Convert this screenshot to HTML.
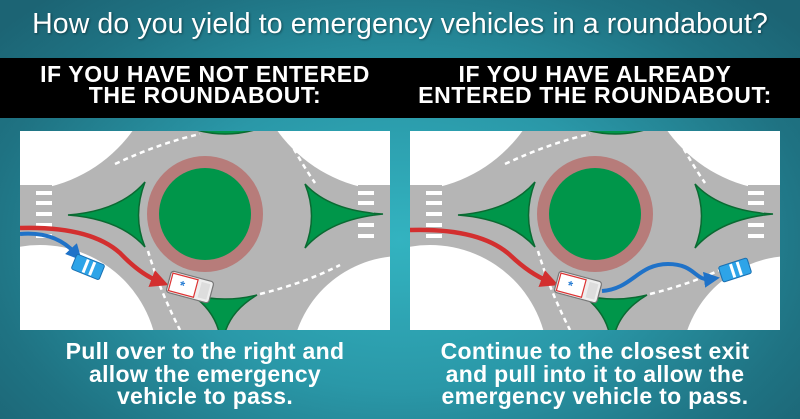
<!DOCTYPE html>
<html><head><meta charset="utf-8"><style>
html,body{margin:0;padding:0}
body{width:800px;height:419px;overflow:hidden;position:relative;font-family:"Liberation Sans",sans-serif;
background:radial-gradient(ellipse 520px 330px at 400px 240px,#33b3c0 0%,#2a98a8 45%,#1f7383 80%,#1c6474 100%);}
.title{position:absolute;top:8px;left:0;width:800px;text-align:center;color:#fff;font-size:28.5px;letter-spacing:0.1px;text-shadow:1px 1px 2px rgba(0,0,0,.4)}
.band{position:absolute;top:58px;left:0;width:800px;height:60px;background:#000}
.h{position:absolute;top:64px;width:400px;text-align:center;color:#fff;font-weight:bold;font-size:23px;line-height:21px;letter-spacing:0.6px}
.panel{position:absolute;top:131px;width:370px;height:199px;background:#fff}
.b{position:absolute;top:340px;width:400px;text-align:center;color:#fff;font-weight:bold;font-size:23px;line-height:22.5px;letter-spacing:0.3px}
</style></head><body>
<div class="title">How do you yield to emergency vehicles in a roundabout?</div>
<div class="band"></div>
<div class="h" style="left:5px">IF YOU HAVE NOT ENTERED<br>THE ROUNDABOUT:</div>
<div class="h" style="left:395px">IF YOU HAVE ALREADY<br>ENTERED THE ROUNDABOUT:</div>

<svg width="0" height="0" style="position:absolute">
<defs>
<g id="rb">
 <rect x="0" y="0" width="370" height="199" fill="#b5b5b5"/>
 <circle cx="-5" cy="-85" r="145" fill="#fff"/>
 <circle cx="375" cy="-85" r="145" fill="#fff"/>
 <circle cx="20" cy="232" r="118" fill="#fff"/>
 <circle cx="382" cy="236" r="111" fill="#fff"/>
 <rect x="0" y="54" width="32" height="60" fill="#b5b5b5"/>
 <rect x="338" y="54" width="32" height="60" fill="#b5b5b5"/>
 <g fill="#fff">
  <rect x="16" y="60" width="16" height="4"/><rect x="16" y="70" width="16" height="4"/><rect x="16" y="81" width="16" height="4"/><rect x="16" y="92" width="16" height="4"/><rect x="16" y="103" width="16" height="4"/>
  <rect x="338" y="60" width="16" height="4"/><rect x="338" y="70" width="16" height="4"/><rect x="338" y="81" width="16" height="4"/><rect x="338" y="92" width="16" height="4"/><rect x="338" y="103" width="16" height="4"/>
 </g>
 <g fill="none" stroke="#fff" stroke-width="2.5" stroke-dasharray="5 4">
  <path d="M95,33 Q140,12 180,3"/>
  <path d="M265,2 Q280,30 295,52"/>
  <path d="M128,120 Q140,160 160,199"/>
  <path d="M240,163 Q285,152 320,134"/>
 </g>
 <circle cx="185" cy="83" r="58" fill="#b77c7a"/>
 <circle cx="185" cy="83" r="46" fill="#00964a"/>
 <g fill="#00964a" stroke="#0a6a32" stroke-width="1.5">
  <path d="M48,84 Q100,80 125,51 Q112,85 125,116 Q100,88 48,84Z"/>
  <path d="M363,83 Q310,80 285,53 Q298,85 285,117 Q310,88 363,83Z"/>
  <path d="M172,164 Q205,172 237,164 Q210,180 204,205 L200,205 Q195,180 172,164Z"/>
  <path d="M173,-2 Q205,8 238,-2Z"/>
 </g>
</g>
<g id="amb">
 <rect x="-22" y="-11" width="44" height="22" rx="3" fill="#eee" stroke="#777" stroke-width="1.2"/>
 <rect x="-20" y="-9" width="26" height="18" fill="#fff" stroke="#d33" stroke-width="1.2"/>
 <rect x="10" y="-8" width="9" height="16" fill="#ddd"/>
 <text x="-8" y="5" font-size="13" fill="#2a7fd4" text-anchor="middle" font-family="Liberation Sans,sans-serif" font-weight="bold">*</text>
</g>
<g id="car">
 <rect x="-15" y="-8" width="30" height="16" rx="2" fill="#2ea4e8" stroke="#1a6fb0" stroke-width="1"/>
 <rect x="-4" y="-7" width="3" height="14" fill="#fff"/><rect x="3" y="-7" width="3" height="14" fill="#fff"/>
</g>
<marker id="ar" markerWidth="4" markerHeight="4" refX="1.5" refY="2" orient="auto"><path d="M0,0 L4,2 L0,4Z" fill="#d32f2f"/></marker>
<marker id="ab" markerWidth="4" markerHeight="4" refX="1.5" refY="2" orient="auto"><path d="M0,0 L4,2 L0,4Z" fill="#1f72c8"/></marker>
</defs></svg>

<svg class="panel" style="left:20px" viewBox="0 0 370 199">
 <use href="#rb"/>
 <path d="M0,103 Q35,100 55,122" fill="none" stroke="#1f72c8" stroke-width="4" marker-end="url(#ab)"/>
 <use href="#car" transform="translate(68,136) rotate(22)"/>
 <path d="M0,97 Q70,95 100,122 Q120,143 138,150" fill="none" stroke="#d32f2f" stroke-width="4.5" marker-end="url(#ar)"/>
 <use href="#amb" transform="translate(170,156) rotate(15)"/>
</svg>

<svg class="panel" style="left:410px" viewBox="0 0 370 199">
 <use href="#rb"/>
 <path d="M0,99 Q70,97 100,124 Q120,143 138,150" fill="none" stroke="#d32f2f" stroke-width="4.5" marker-end="url(#ar)"/>
 <use href="#amb" transform="translate(168,156) rotate(15)"/>
 <path d="M192,160 C222,158 228,133 258,133 C285,133 285,150 300,148" fill="none" stroke="#1f72c8" stroke-width="4" marker-end="url(#ab)"/>
 <use href="#car" transform="translate(325,139) rotate(-18)"/>
</svg>

<div class="b" style="left:5px">Pull over to the right and<br>allow the emergency<br>vehicle to pass.</div>
<div class="b" style="left:395px">Continue to the closest exit<br>and pull into it to allow the<br>emergency vehicle to pass.</div>
</body></html>
